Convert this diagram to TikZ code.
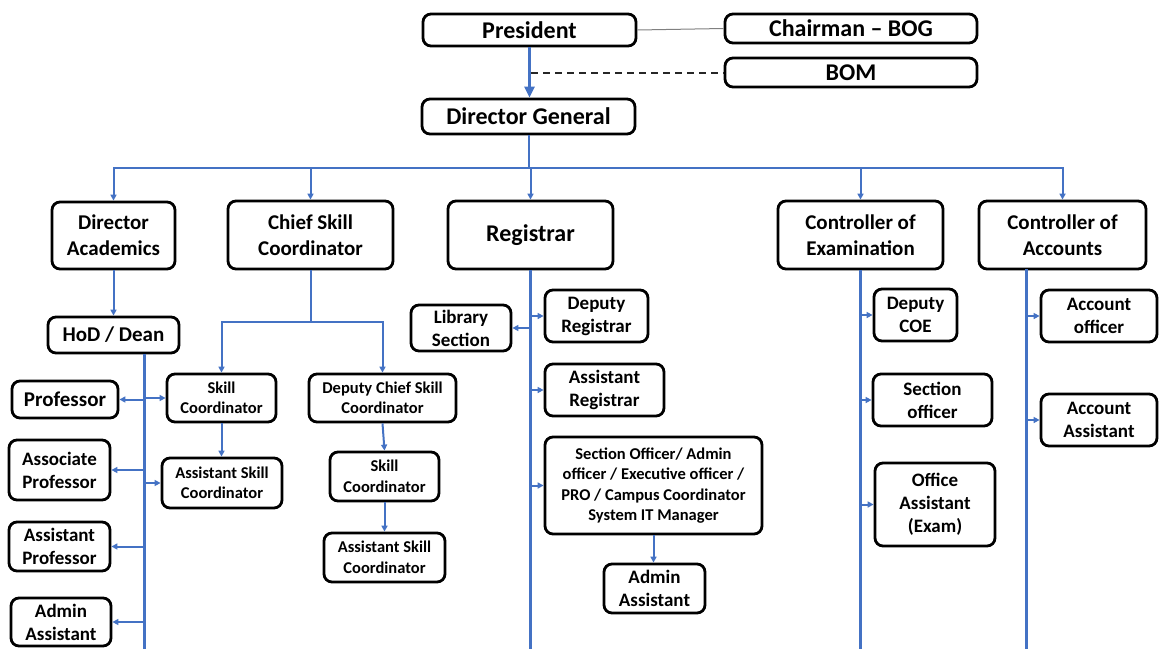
\documentclass[tikz,border=0pt]{standalone}
\usepackage{fontspec}
\setmainfont{Carlito}
\usetikzlibrary{arrows.meta}
\definecolor{cblue}{RGB}{68,114,196}
\tikzset{
  box/.style={draw=black, line width=2.8pt, rounded corners=8pt, fill=white, align=center, inner sep=0pt},
  fA/.style={font=\fontsize{24}{29}\selectfont\bfseries},
  fB/.style={font=\fontsize{21}{26}\selectfont\bfseries},
  fC/.style={font=\fontsize{19}{23}\selectfont\bfseries},
  fD/.style={font=\fontsize{16.5}{20.5}\selectfont\bfseries},
  conn/.style={draw=cblue, line width=2pt},
  vline/.style={draw=cblue, line width=3pt},
  arr/.style={draw=cblue, line width=2pt, -{Triangle[length=6pt,width=6pt]}},
  bigarr/.style={draw=cblue, line width=3pt, -{Triangle[length=11pt,width=10pt]}},
}
\begin{document}
\begin{tikzpicture}[x=1pt,y=-1pt]
\useasboundingbox (0,0) rectangle (1159,648);
\clip (0,0) rectangle (1159,648);
\fill[white] (0,0) rectangle (1159,648);

% top level
\node[box,fA,minimum width=213pt,minimum height=32pt] (pres) at (529.5,30) {President};
\node[box,fA,minimum width=252pt,minimum height=29pt] (chair) at (851,28.5) {Chairman – BOG};
\node[box,fA,minimum width=252pt,minimum height=29pt] (bom) at (851,72.5) {BOM};
\node[box,fA,minimum width=213pt,minimum height=35pt] (dg) at (528.5,116.5) {Director General};

% second level
\node[box,fB,minimum width=123pt,minimum height=67pt] (da) at (113.5,235.5) {Director\\Academics};
\node[box,fB,minimum width=165pt,minimum height=68pt] (csc) at (310.5,235) {Chief Skill\\Coordinator};
\node[box,fA,minimum width=165pt,minimum height=68pt] (reg) at (530.5,235) {Registrar};
\node[box,fB,minimum width=165pt,minimum height=68pt] (coe) at (860.5,235) {Controller of\\Examination};
\node[box,fB,minimum width=167pt,minimum height=68pt] (coa) at (1062.5,235) {Controller of\\Accounts};

% academics
\node[box,fB,minimum width=131pt,minimum height=36pt] (hod) at (113.5,335) {HoD / Dean};
\node[box,fB,minimum width=106pt,minimum height=37pt] (prof) at (65,399.5) {Professor};
\node[box,fC,minimum width=101pt,minimum height=60pt] (assoc) at (59.5,470) {Associate\\Professor};
\node[box,fC,minimum width=101pt,minimum height=49pt] (asstp) at (59.5,546.5) {Assistant\\Professor};
\node[box,fC,minimum width=100pt,minimum height=48pt] (adminL) at (61,622) {Admin\\Assistant};

% skill
\node[box,fD,minimum width=109pt,minimum height=48pt] (sc1) at (221.5,398) {Skill\\Coordinator};
\node[box,fD,minimum width=120pt,minimum height=50pt] (asc1) at (222,483) {Assistant Skill\\Coordinator};
\node[box,fD,minimum width=147pt,minimum height=48pt] (dcsc) at (382.5,398) {Deputy Chief Skill\\Coordinator};
\node[box,fD,minimum width=109pt,minimum height=49pt] (sc2) at (384.5,476.5) {Skill\\Coordinator};
\node[box,fD,minimum width=121pt,minimum height=49pt] (asc2) at (384.5,557.5) {Assistant Skill\\Coordinator};

% registrar
\node[box,fC,minimum width=100pt,minimum height=46pt] (lib) at (461,328) {Library\\Section};
\node[box,fC,minimum width=103pt,minimum height=52pt] (dr) at (596.5,316) {Deputy\\Registrar};
\node[box,fC,minimum width=119pt,minimum height=52pt] (ar) at (604.5,390) {Assistant\\Registrar};
\node[box,fD,minimum width=217pt,minimum height=97pt] (so) at (653.5,485.5) {Section Officer/ Admin\\officer / Executive officer /\\PRO / Campus Coordinator\\System IT Manager};
\node[box,fC,minimum width=101pt,minimum height=49pt] (adminM) at (654.5,588.5) {Admin\\Assistant};

% examination
\node[box,fC,minimum width=83pt,minimum height=52pt] (dcoe) at (915.5,315) {Deputy\\COE};
\node[box,fC,minimum width=119pt,minimum height=52pt] (seco) at (932.5,400) {Section\\officer};
\node[box,fC,minimum width=120pt,minimum height=83pt] (oa) at (935,504.5) {Office\\Assistant\\(Exam)};

% accounts
\node[box,fC,minimum width=116pt,minimum height=52pt] (ao) at (1099,316) {Account\\officer};
\node[box,fC,minimum width=116pt,minimum height=52pt] (aa) at (1099,420) {Account\\Assistant};

% connectors top
\draw[gray, line width=1pt] (pres.east) -- (chair.west);
\coordinate (dstart) at (531,72.5);
\draw[black!85, line width=2pt, dash pattern=on 7pt off 5pt] (dstart) -- (bom.west);
\draw[bigarr] (pres.south) -- (pres.south |- dg.north);

% bus
\coordinate (bus) at (528.5,168);
\draw[conn] (dg.south) -- (bus);
\draw[arr] (bus) -| (da.north);
\draw[arr] (bus) -| (csc.north);
\draw[arr] (bus) -| (reg.north);
\draw[arr] (bus) -| (coe.north);
\draw[arr] (bus) -| (coa.north);

% academics
\draw[arr] (da.south) -- (hod.north);
\coordinate (h1) at (144,354);
\coordinate (h2) at (144,652);
\draw[vline] (h1) -- (h2);
\draw[arr] (h1 |- prof.east) -- (prof.east);
\draw[arr] (h1 |- assoc.east) -- (assoc.east);
\draw[arr] (h1 |- asstp.east) -- (asstp.east);
\draw[arr] (h1 |- adminL.east) -- (adminL.east);
\draw[arr] (h1 |- sc1.west) -- (sc1.west);
\draw[arr] (h1 |- asc1.west) -- (asc1.west);

% skill
\coordinate (cb) at (310.5,322);
\draw[conn] (csc.south) -- (cb);
\draw[arr] (cb) -| (sc1.north);
\draw[arr] (cb) -| (dcsc.north);
\draw[arr] (sc1.south) -- (sc1.south |- asc1.north);
\draw[arr] (dcsc.south) -- (sc2.north);
\draw[arr] (sc2.south) -- (asc2.north);

% registrar
\coordinate (r2) at (530.5,652);
\draw[vline] (reg.south) -- (r2);
\draw[arr] (reg.south |- lib.east) -- (lib.east);
\draw[arr] (reg.south |- dr.west) -- (dr.west);
\draw[arr] (reg.south |- ar.west) -- (ar.west);
\draw[arr] (reg.south |- so.west) -- (so.west);
\draw[arr] (so.south) -- (so.south |- adminM.north);

% examination
\coordinate (e2) at (860.5,652);
\draw[vline] (coe.south) -- (e2);
\draw[arr] (coe.south |- dcoe.west) -- (dcoe.west);
\draw[arr] (coe.south |- seco.west) -- (seco.west);
\draw[arr] (coe.south |- oa.west) -- (oa.west);

% accounts
\coordinate (a1) at (1026,269);
\coordinate (a2) at (1026,652);
\draw[vline] (a1) -- (a2);
\draw[arr] (a1 |- ao.west) -- (ao.west);
\draw[arr] (a1 |- aa.west) -- (aa.west);
\end{tikzpicture}
\end{document}
